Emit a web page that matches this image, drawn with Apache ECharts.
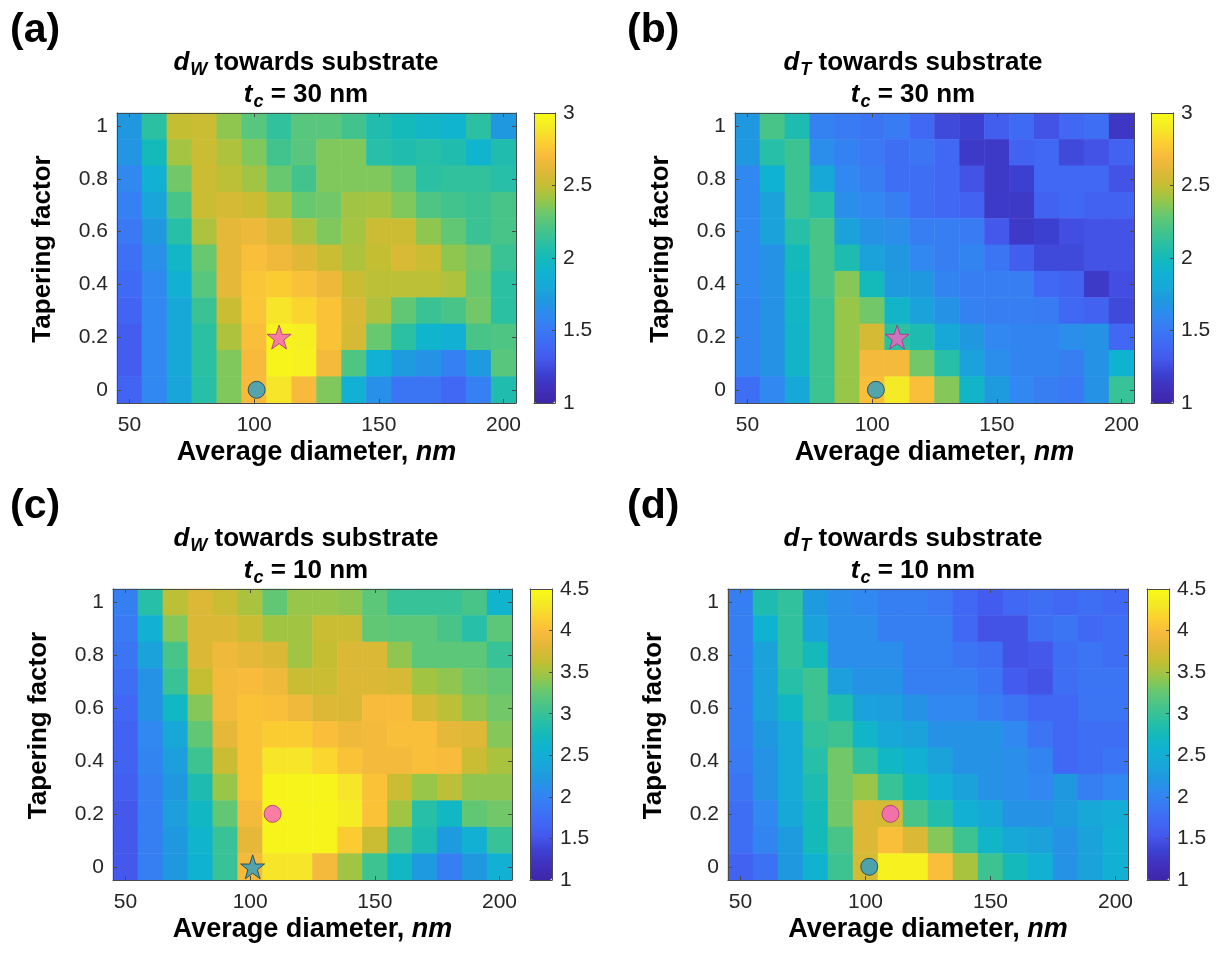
<!DOCTYPE html>
<html><head><meta charset="utf-8">
<script src="https://cdn.jsdelivr.net/npm/echarts@6/dist/echarts.min.js"></script>
<style>html,body{margin:0;padding:0;background:#fff}#main{width:1216px;height:957px}</style>
</head><body><div id="main"></div>
<script>
// ---------------- DATA ----------------
const diameters = [50,60,70,80,90,100,110,120,130,140,150,160,170,180,190,200];
const taperings = [0,0.1,0.2,0.3,0.4,0.5,0.6,0.7,0.8,0.9,1];
const xTickValues = [50,100,150,200];
const yTickValues = [0,0.2,0.4,0.6,0.8,1];
const cbTicks30 = [1,1.5,2,2.5,3];
const cbTicks10 = [1,1.5,2,2.5,3,3.5,4,4.5];

// rows listed from tapering factor 1 (top row) down to 0 (bottom row)
const dW_30 = [
 [1.70,2.10,2.50,2.52,2.38,2.25,2.12,2.25,2.25,2.18,2.05,2.00,1.95,1.92,2.10,1.70],
 [1.68,2.00,2.43,2.52,2.45,2.35,2.18,2.25,2.35,2.35,2.08,2.05,2.08,2.05,1.92,2.05],
 [1.60,1.88,2.32,2.53,2.48,2.42,2.30,2.18,2.35,2.35,2.35,2.28,2.10,2.12,2.12,2.08],
 [1.55,1.78,2.20,2.52,2.56,2.53,2.43,2.30,2.32,2.42,2.43,2.35,2.22,2.18,2.15,2.20],
 [1.50,1.70,2.08,2.45,2.62,2.65,2.58,2.45,2.35,2.43,2.53,2.53,2.38,2.28,2.15,2.20],
 [1.45,1.65,1.95,2.30,2.62,2.72,2.67,2.60,2.52,2.45,2.50,2.57,2.52,2.38,2.32,2.15],
 [1.42,1.60,1.88,2.25,2.62,2.75,2.78,2.73,2.66,2.52,2.48,2.48,2.48,2.45,2.30,2.10],
 [1.38,1.60,1.80,2.15,2.52,2.75,2.88,2.82,2.74,2.58,2.45,2.28,2.15,2.20,2.32,2.10],
 [1.33,1.60,1.80,2.10,2.45,2.72,2.95,2.93,2.74,2.56,2.30,2.10,1.92,1.88,2.20,2.22],
 [1.33,1.60,1.80,2.10,2.35,2.70,2.96,2.94,2.68,2.22,1.88,1.72,1.66,1.55,1.72,2.25],
 [1.38,1.60,1.78,2.08,2.35,2.70,2.88,2.70,2.35,1.88,1.65,1.48,1.48,1.40,1.55,2.05]
];
const dT_30 = [
 [1.70,2.20,2.04,1.56,1.52,1.48,1.52,1.40,1.24,1.20,1.34,1.42,1.28,1.40,1.44,1.14],
 [1.70,2.08,2.16,1.64,1.56,1.50,1.44,1.48,1.40,1.16,1.16,1.36,1.40,1.24,1.28,1.36],
 [1.60,1.90,2.16,1.80,1.60,1.54,1.44,1.44,1.40,1.28,1.16,1.20,1.40,1.40,1.40,1.28],
 [1.60,1.76,2.16,2.08,1.64,1.60,1.54,1.44,1.40,1.36,1.16,1.16,1.36,1.40,1.36,1.36],
 [1.60,1.76,2.08,2.20,1.76,1.66,1.64,1.54,1.54,1.52,1.30,1.16,1.20,1.26,1.28,1.28],
 [1.60,1.66,2.00,2.20,2.04,1.76,1.70,1.60,1.54,1.58,1.48,1.34,1.24,1.24,1.28,1.28],
 [1.60,1.66,1.96,2.20,2.36,2.00,1.72,1.70,1.58,1.54,1.54,1.54,1.40,1.36,1.16,1.26],
 [1.58,1.66,1.96,2.16,2.40,2.32,1.94,1.76,1.66,1.56,1.54,1.54,1.52,1.40,1.36,1.24],
 [1.58,1.66,1.94,2.16,2.40,2.56,2.10,2.04,1.80,1.70,1.60,1.58,1.58,1.64,1.66,1.40],
 [1.58,1.66,1.94,2.16,2.40,2.68,2.68,2.32,2.08,1.76,1.64,1.58,1.58,1.54,1.66,1.90],
 [1.44,1.60,1.80,2.16,2.40,2.72,2.90,2.72,2.36,1.94,1.72,1.60,1.54,1.50,1.66,2.14]
];
const dW_10 = [
 [1.95,2.89,3.59,3.77,3.66,3.52,3.24,3.45,3.45,3.42,3.21,3.00,3.00,3.00,3.10,2.61],
 [1.91,2.54,3.38,3.77,3.77,3.66,3.49,3.49,3.66,3.66,3.24,3.21,3.21,3.10,2.89,3.21],
 [1.84,2.33,3.10,3.77,3.91,3.84,3.77,3.49,3.63,3.77,3.77,3.42,3.21,3.21,3.21,3.00],
 [1.77,2.16,3.00,3.63,3.94,3.98,3.91,3.66,3.66,3.77,3.77,3.73,3.49,3.42,3.31,3.24],
 [1.70,2.16,2.68,3.38,3.94,4.05,4.01,3.91,3.77,3.77,3.98,3.98,3.73,3.59,3.42,3.31],
 [1.63,2.05,2.40,3.24,3.84,4.05,4.12,4.12,4.01,3.91,3.94,4.01,4.01,3.84,3.80,3.38],
 [1.63,2.02,2.30,3.03,3.66,4.05,4.29,4.29,4.19,4.05,3.94,3.94,4.01,3.98,3.66,3.52],
 [1.60,1.95,2.23,2.82,3.45,4.05,4.43,4.43,4.43,4.29,4.05,3.66,3.45,3.59,3.42,3.42],
 [1.53,1.95,2.30,2.68,3.24,3.94,4.43,4.43,4.43,4.36,4.05,3.49,2.89,2.68,3.24,3.31],
 [1.53,1.95,2.23,2.61,3.00,3.84,4.43,4.43,4.43,4.12,3.66,3.10,2.82,2.26,2.54,3.00],
 [1.53,1.95,2.23,2.58,3.00,3.94,4.29,4.29,3.94,3.49,3.03,2.68,2.26,1.95,2.23,2.54]
];
const dT_10 = [
 [1.95,2.82,2.96,2.26,2.12,2.05,1.95,1.95,1.88,1.70,1.56,1.70,1.77,1.70,1.77,1.70],
 [1.95,2.58,2.96,2.33,2.12,2.12,1.95,1.95,1.95,1.70,1.49,1.49,1.77,1.84,1.70,1.77],
 [1.95,2.33,2.96,2.75,2.12,2.12,2.12,1.95,1.95,1.84,1.77,1.49,1.53,1.77,1.84,1.77],
 [1.95,2.33,2.89,3.03,2.30,2.16,2.16,1.95,1.95,1.95,1.84,1.56,1.49,1.77,1.84,1.84],
 [1.95,2.33,2.68,3.03,2.82,2.33,2.30,2.16,2.05,2.05,1.95,1.84,1.70,1.70,1.84,1.84],
 [1.95,2.23,2.44,2.96,3.03,2.65,2.40,2.33,2.16,2.16,2.16,2.05,1.84,1.70,1.77,1.77],
 [1.91,2.16,2.44,2.89,3.31,2.96,2.68,2.54,2.33,2.16,2.16,2.12,2.02,1.70,1.77,1.84],
 [1.84,2.16,2.44,2.82,3.31,3.45,3.00,2.75,2.54,2.33,2.16,2.12,2.05,2.23,1.95,2.05],
 [1.77,2.05,2.40,2.75,3.31,3.77,3.73,3.10,2.86,2.54,2.40,2.16,2.16,2.26,2.40,2.47],
 [1.77,2.02,2.26,2.75,3.10,3.77,4.01,3.77,3.38,3.03,2.65,2.40,2.33,2.16,2.33,2.54],
 [1.63,1.80,2.23,2.58,3.03,3.73,4.40,4.40,4.01,3.52,3.03,2.75,2.54,2.16,2.33,2.54]
];
// highlighted design points [diameter, tapering factor]
const pinkPoint_a = [[110, 0.2]];
const bluePoint_a = [[101, 0]];
const pinkPoint_b = [[110, 0.2]];
const bluePoint_b = [[101.5, 0]];
const pinkPoint_c = [[109, 0.2]];
const bluePoint_c = [[101, 0]];
const pinkPoint_d = [[110, 0.2]];
const bluePoint_d = [[101.5, 0]];

// ---------------- STYLE ----------------
const BOLDF = "'Liberation Sans',Arial,Helvetica,sans-serif";
const SANS = "'Liberation Sans',Arial,Helvetica,sans-serif";
const FRAME = '#4a4a4a';
const TICKTXT = '#262626';
const PARULA = ['#3E26A8','#4030BC','#3C40D0','#4458EC','#4068F4','#3A78F4','#3088F0','#2098E0','#18A8D8','#10B2D2',
  '#14BABA','#2CC0A2','#48C488','#68C870','#98C648','#C4BE32','#E0B838','#F8BA3C','#FCD030','#F4EA26','#F9FB15'];
const STAR = 'path://M50,0 L61.8,35.1 L97.6,34.5 L68.8,56.6 L79.4,90.5 L50,70 L20.6,90.5 L31.2,56.6 L2.4,34.5 L38.2,35.1 Z';
const PINK = {color:'#F75FC6', borderColor:'#A8317E', borderWidth:1};
const BLUE = {color:'#2B9EC9', borderColor:'#1B3B4B', borderWidth:1};

const panels = [
 {letter:'(a)', q:'W', tc:30, values:dW_30, range:[1,3], ticks:cbTicks30,
  grid:[117,113,399,290], cb:[534,113,21,290], titleX:306, titleTop:47, letterPos:[10,10],
  marks:[{pts:pinkPoint_a, sym:STAR, size:24, st:PINK},{pts:bluePoint_a, sym:'circle', size:17, st:BLUE}]},
 {letter:'(b)', q:'T', tc:30, values:dT_30, range:[1,3], ticks:cbTicks30,
  grid:[735,113,399,290], cb:[1151,113,22,290], titleX:913, titleTop:47, letterPos:[627,10],
  marks:[{pts:pinkPoint_b, sym:STAR, size:24, st:PINK},{pts:bluePoint_b, sym:'circle', size:17, st:BLUE}]},
 {letter:'(c)', q:'W', tc:10, values:dW_10, range:[1,4.5], ticks:cbTicks10,
  grid:[113,589,399,291], cb:[530,589,22,291], titleX:306, titleTop:523, letterPos:[10,486],
  marks:[{pts:pinkPoint_c, sym:'circle', size:17, st:PINK},{pts:bluePoint_c, sym:STAR, size:24, st:BLUE}]},
 {letter:'(d)', q:'T', tc:10, values:dT_10, range:[1,4.5], ticks:cbTicks10,
  grid:[728,589,400,291], cb:[1147,589,22,291], titleX:913, titleTop:523, letterPos:[627,486],
  marks:[{pts:pinkPoint_d, sym:'circle', size:17, st:PINK},{pts:bluePoint_d, sym:'circle', size:17, st:BLUE}]}
];

const grid = [], xAxis = [], yAxis = [], series = [], visualMap = [], title = [];
const xLabelShow = (i, v) => xTickValues.includes(Number(v));
const yLabelShow = (i, v) => yTickValues.includes(Number(v));
const lineStyle = {color: FRAME, width: 1};

panels.forEach((p) => {
  const gi = grid.length;
  grid.push({left:p.grid[0], top:p.grid[1], width:p.grid[2], height:p.grid[3], containLabel:false});
  const xb = xAxis.length;
  xAxis.push({type:'category', gridIndex:gi, data:diameters.map(String), position:'bottom', z:10,
    axisLine:{show:true, onZero:false, lineStyle},
    axisTick:{show:true, inside:true, alignWithLabel:true, interval:xLabelShow, length:4, lineStyle},
    axisLabel:{interval:xLabelShow, margin:12, fontSize:21, color:TICKTXT, fontFamily:SANS},
    splitLine:{show:false},
    name:'Average diameter, {i|nm}', nameLocation:'middle', nameGap:36,
    nameTextStyle:{fontSize:27, fontWeight:'bold', fontFamily:BOLDF, color:'#000',
      rich:{i:{fontSize:27, fontWeight:'bold', fontStyle:'italic', fontFamily:BOLDF, color:'#000'}}}
  });
  xAxis.push({type:'category', gridIndex:gi, data:diameters.map(String), position:'top', z:10,
    axisLine:{show:true, onZero:false, lineStyle},
    axisTick:{show:true, inside:true, alignWithLabel:true, interval:xLabelShow, length:4, lineStyle},
    axisLabel:{show:false}, splitLine:{show:false}});
  xAxis.push({type:'value', gridIndex:gi, min:45, max:205, show:false});
  const yb = yAxis.length;
  yAxis.push({type:'category', gridIndex:gi, data:taperings.map(String), position:'left', z:10,
    axisLine:{show:true, onZero:false, lineStyle},
    axisTick:{show:true, inside:true, alignWithLabel:true, interval:yLabelShow, length:4, lineStyle},
    axisLabel:{interval:yLabelShow, margin:9, fontSize:21, color:TICKTXT, fontFamily:SANS},
    splitLine:{show:false},
    name:'Tapering factor', nameLocation:'middle', nameGap:61, nameRotate:90,
    nameTextStyle:{fontSize:26, fontWeight:'bold', fontFamily:BOLDF, color:'#000', padding:[0,0,0,18]}
  });
  yAxis.push({type:'category', gridIndex:gi, data:taperings.map(String), position:'right', z:10,
    axisLine:{show:true, onZero:false, lineStyle},
    axisTick:{show:true, inside:true, alignWithLabel:true, interval:yLabelShow, length:4, lineStyle},
    axisLabel:{show:false}, splitLine:{show:false}});
  yAxis.push({type:'value', gridIndex:gi, min:-0.05, max:1.05, show:false});

  const cells = [];
  p.values.forEach((row, r) => row.forEach((v, c) => cells.push([c, taperings.length - 1 - r, v])));
  const hi = series.length;
  series.push({type:'heatmap', xAxisIndex:xb, yAxisIndex:yb, data:cells, progressive:0,
    itemStyle:{borderWidth:0}, emphasis:{disabled:true}});
  p.marks.forEach(m => series.push({type:'scatter', xAxisIndex:xb+2, yAxisIndex:yb+2, data:m.pts,
    symbol:m.sym, symbolSize:m.size, itemStyle:m.st, z:5, emphasis:{disabled:true}}));

  visualMap.push({type:'continuous', seriesIndex:hi, min:p.range[0], max:p.range[1], orient:'vertical',
    left:p.cb[0], top:p.cb[1], itemWidth:p.cb[2], itemHeight:p.cb[3], padding:0,
    calculable:false, hoverLink:false, inRange:{color:PARULA}, show:true});

  // colorbar frame + tick labels
  const ci = grid.length;
  grid.push({left:p.cb[0], top:p.cb[1], width:p.cb[2], height:p.cb[3]});
  xAxis.push({type:'value', gridIndex:ci, min:0, max:1, position:'bottom', z:10,
    axisLine:{show:true, onZero:false, lineStyle}, axisTick:{show:false}, axisLabel:{show:false}, splitLine:{show:false}});
  xAxis.push({type:'value', gridIndex:ci, min:0, max:1, position:'top', z:10,
    axisLine:{show:true, onZero:false, lineStyle}, axisTick:{show:false}, axisLabel:{show:false}, splitLine:{show:false}});
  const step = p.ticks[1] - p.ticks[0];
  yAxis.push({type:'value', gridIndex:ci, min:p.ticks[0], max:p.ticks[p.ticks.length-1], interval:step, position:'right', z:10,
    axisLine:{show:true, onZero:false, lineStyle},
    axisTick:{show:true, inside:true, length:3, lineStyle},
    axisLabel:{margin:8, fontSize:21, color:TICKTXT, fontFamily:SANS}, splitLine:{show:false}});
  yAxis.push({type:'value', gridIndex:ci, min:p.ticks[0], max:p.ticks[p.ticks.length-1], interval:step, position:'left', z:10,
    axisLine:{show:true, onZero:false, lineStyle}, axisTick:{show:false}, axisLabel:{show:false}, splitLine:{show:false}});

  // titles
  title.push({text:p.letter, left:p.letterPos[0], top:p.letterPos[1], padding:0,
    textStyle:{fontSize:41, fontWeight:'bold', fontFamily:SANS, color:'#000'}});
  const rich = {
    i:{fontSize:26, fontWeight:'bold', fontStyle:'italic', fontFamily:BOLDF, color:'#000', lineHeight:32},
    s:{fontSize:18, fontWeight:'bold', fontStyle:'italic', fontFamily:BOLDF, color:'#000', lineHeight:32, padding:[14,0,0,1]},
    b:{fontSize:26, fontWeight:'bold', fontFamily:BOLDF, color:'#000', lineHeight:32}
  };
  title.push({text:'{i|d}{s|' + p.q + '}{b| towards substrate}\n{i|t}{s|c}{b| = ' + p.tc + ' nm}',
    left:p.titleX, top:p.titleTop, textAlign:'center', padding:0,
    textStyle:{fontSize:26, fontWeight:'bold', fontFamily:BOLDF, color:'#000', lineHeight:32, rich}});
});

const chart = echarts.init(document.getElementById('main'), null, {renderer:'canvas'});
chart.setOption({backgroundColor:'#fff', animation:false, title, grid, xAxis, yAxis, visualMap, series});
</script></body></html>
